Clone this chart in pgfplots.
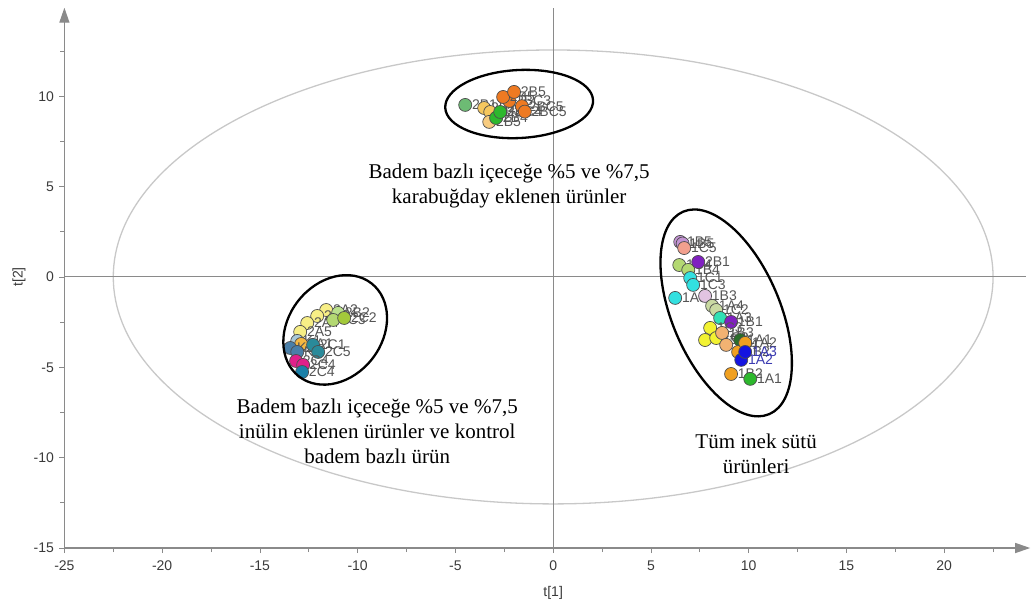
\documentclass[border=0pt]{standalone}
\usepackage{fontspec}
\setmainfont{Liberation Sans}
\newfontfamily\serif{Liberation Serif}
\usepackage{pgfplots}
\pgfplotsset{compat=1.18}
\usetikzlibrary{arrows.meta}

\definecolor{axisgrey}{HTML}{8A8A8A}
\definecolor{tickcol}{HTML}{3A3A3A}
\definecolor{ellcol}{HTML}{C8C8C8}
\definecolor{edge}{HTML}{4D4D4D}
\definecolor{labgrey}{HTML}{555555}
\definecolor{labblue}{HTML}{3A3AB0}
% marker fills
\definecolor{cSeaGreen}{HTML}{6DBB74}
\definecolor{cGoldLight}{HTML}{F6C75E}
\definecolor{cLightOrange}{HTML}{F8CC80}
\definecolor{cGreen}{HTML}{2DB82D}
\definecolor{cOrange}{HTML}{EE7A22}
\definecolor{cKhaki}{HTML}{F7EE86}
\definecolor{cLightGreen}{HTML}{B9E08C}
\definecolor{cOlive}{HTML}{A3C93A}
\definecolor{cLightBlue}{HTML}{A9C9D9}
\definecolor{cSteel}{HTML}{4A7FA8}
\definecolor{cGold}{HTML}{F5B840}
\definecolor{cTeal}{HTML}{2A8A9A}
\definecolor{cMagenta}{HTML}{E0208A}
\definecolor{cDarkCyan}{HTML}{1A80A8}
\definecolor{cPlum}{HTML}{C393D3}
\definecolor{cSalmon}{HTML}{F2A08E}
\definecolor{cYellowGreen}{HTML}{B3D872}
\definecolor{cPurple}{HTML}{8020C0}
\definecolor{cCyan}{HTML}{33E0E0}
\definecolor{cThistle}{HTML}{E2C4E2}
\definecolor{cPaleOlive}{HTML}{C9D9A2}
\definecolor{cTurquoise}{HTML}{30E0B4}
\definecolor{cYellow}{HTML}{F2F232}
\definecolor{cSandy}{HTML}{F2B272}
\definecolor{cDarkGreen}{HTML}{2A6E2A}
\definecolor{cAmber}{HTML}{F0A020}
\definecolor{cBlue}{HTML}{1414E0}

\pgfplotsset{
  pts/.style={only marks, mark=*, mark size=6.5pt,
    mark options={fill=#1, draw=edge, line width=0.7pt},
    nodes near coords, point meta=explicit symbolic,
    every node near coord/.append style={anchor=west, xshift=6.5pt, inner sep=0pt,
      text=labgrey, font=\fontsize{14}{14}\selectfont}},
  ptsb/.style={pts=#1,
    every node near coord/.append style={text=labblue}},
}

\begin{document}
\begin{tikzpicture}
\begin{axis}[
  name=ax, scale only axis, width=965.8pt, height=540.3pt,
  xmin=-25, xmax=24.4, ymin=-15, ymax=14.9,
  axis lines=left,
  axis line style={draw=axisgrey, line width=1.3pt,
    -{Triangle[length=15pt,width=10pt,fill=axisgrey]}},
  xtick={-25,-20,...,20}, ytick={-15,-10,...,10},
  minor xtick={-22.5,-17.5,...,22.5}, minor ytick={-12.5,-7.5,...,12.5},
  tick align=outside, major tick length=5pt, minor tick length=4pt,
  every tick/.style={axisgrey, line width=0.8pt},
  ticklabel style={font=\fontsize{14}{14}\selectfont, text=tickcol},
  /pgf/number format/assume math mode=true,
  xticklabel style={yshift=-4pt},
  yticklabel style={xshift=-2pt},
  xlabel={t[1]}, ylabel={t[2]},
  xlabel style={at={(axis cs:0,-15)}, anchor=center, yshift=-45pt,
    font=\fontsize{14}{14}\selectfont, text=tickcol},
  ylabel style={at={(axis description cs:-0.047,0.5017)}, anchor=center,
    font=\fontsize{14}{14}\selectfont, text=tickcol},
  clip=false,
]
% Hotelling T2 ellipse and the zero lines
\draw[ellcol, line width=1.3pt] (axis cs:0,0) ellipse [x radius=22.5, y radius=12.56];
\draw[axisgrey, line width=1pt] (axis cs:0,-15) -- (axis cs:0,14.9);
\draw[axisgrey, line width=1pt] (axis cs:-25,0) -- (axis cs:24.2,0);

% --- almond base + buckwheat ---
\addplot[pts=cSeaGreen] coordinates {(-4.50,9.52) [2B1]};
\addplot[pts=cGoldLight] coordinates {(-3.53,9.35) [2B2] (-3.22,9.13) [2B3]};
\addplot[pts=cLightOrange] coordinates {(-3.27,8.58) [2B5]};
\addplot[pts=cGreen] coordinates {(-2.92,8.80) [2B4] (-2.71,9.13) [2BC4]};
\addplot[pts=cOrange] coordinates {(-2.25,9.74) [2BC3] (-2.56,9.96) [2B5] (-2.00,10.24) [2B5] (-1.60,9.45) [2BC5] (-1.45,9.15) [2BC5]};

% --- almond base + inulin and control ---
\addplot[pts=cKhaki] coordinates {(-11.61,-1.83) [2A2] (-12.07,-2.16) [2A3] (-12.58,-2.55) [2A4] (-12.94,-3.04) [2A5]};
\addplot[pts=cLightGreen] coordinates {(-11.00,-1.99) [2B2]};
\addplot[pts=cYellowGreen] coordinates {(-11.25,-2.38) [2C3]};
\addplot[pts=cOlive] coordinates {(-10.69,-2.27) [2C2]};
\addplot[pts=cLightBlue] coordinates {(-13.09,-3.54) [K1]};
\addplot[pts=cGold] coordinates {(-12.89,-3.71) [2A1]};
\addplot[pts=cSteel] coordinates {(-13.45,-3.93) [K2] (-13.09,-4.15) [K3]};
\addplot[pts=cTeal] coordinates {(-12.28,-3.76) [2C1] (-12.02,-4.15) [2C5]};
\addplot[pts=cMagenta] coordinates {(-13.15,-4.65) [2C4] (-12.79,-4.87) [2C4]};
\addplot[pts=cDarkCyan] coordinates {(-12.84,-5.26) [2C4]};

% --- cow milk products ---
\addplot[pts=cPlum] coordinates {(6.50,1.94) [1B5] (6.62,1.85) [1B5]};
\addplot[pts=cSalmon] coordinates {(6.70,1.60) [1C5]};
\addplot[pts=cYellowGreen] coordinates {(6.45,0.66) [1C4] (6.91,0.39) [1B4]};
\addplot[pts=cPurple] coordinates {(7.42,0.83) [2B1]};
\addplot[pts=cCyan] coordinates {(7.01,-0.06) [1C1] (7.16,-0.44) [1C3] (6.24,-1.16) [1A5]};
\addplot[pts=cThistle] coordinates {(7.77,-1.05) [1B3]};
\addplot[pts=cPaleOlive] coordinates {(8.13,-1.60) [1A4] (8.34,-1.83) [1C2]};
\addplot[pts=cTurquoise] coordinates {(8.54,-2.27) [1A3]};
\addplot[pts=cPurple] coordinates {(9.10,-2.49) [1B1]};
\addplot[pts=cYellow] coordinates {(8.03,-2.82) [1C3] (7.77,-3.49) [1C5] (8.34,-3.38) [1C2]};
\addplot[pts=cSandy] coordinates {(8.64,-3.10) [1B3] (8.85,-3.76) [1B4]};
\addplot[pts=cDarkGreen] coordinates {(9.57,-3.49) [1A1]};
\addplot[pts=cAmber] coordinates {(9.46,-4.15) [1B2] (9.82,-3.65) [1A2]};
\addplot[ptsb=cBlue] coordinates {(9.62,-4.59) [1A2] (9.82,-4.15) [1A3]};
\addplot[pts=cAmber] coordinates {(9.10,-5.37) [1B2]};
\addplot[pts=cGreen] coordinates {(10.08,-5.64) [1A1]};

\coordinate (cT) at (axis cs:-1.74,9.57);
\coordinate (cL) at (axis cs:-11.15,-2.93);
\coordinate (cR) at (axis cs:8.85,-1.99);
\coordinate (O) at (axis cs:-25,-15);

\node[font=\serif\fontsize{21}{25}\selectfont, align=center] at (axis cs:-2.25,5.06)
  {Badem bazlı içeceğe \%5 ve \%7,5\\karabuğday eklenen ürünler};
\node[font=\serif\fontsize{21}{25}\selectfont, align=center] at (axis cs:-9.0,-8.52)
  {Badem bazlı içeceğe \%5 ve \%7,5\\inülin eklenen ürünler ve kontrol\\badem bazlı ürün};
\node[font=\serif\fontsize{21}{25}\selectfont, align=center] at (axis cs:10.38,-9.77)
  {Tüm inek sütü\\ürünleri};
\end{axis}

% group outlines
\draw[line width=2.3pt, rotate around={3:(cT)}] (cT) ellipse [x radius=74pt, y radius=34pt];
\draw[line width=2.3pt, rotate around={52:(cL)}] (cL) ellipse [x radius=59pt, y radius=47pt];
\draw[line width=2.3pt, rotate around={-67:(cR)}] (cR) ellipse [x radius=110pt, y radius=54pt];

\pgfresetboundingbox
\path[use as bounding box] (O) ++(-64.4pt,-58pt) rectangle ++(1035pt,606pt);
\end{tikzpicture}
\end{document}
